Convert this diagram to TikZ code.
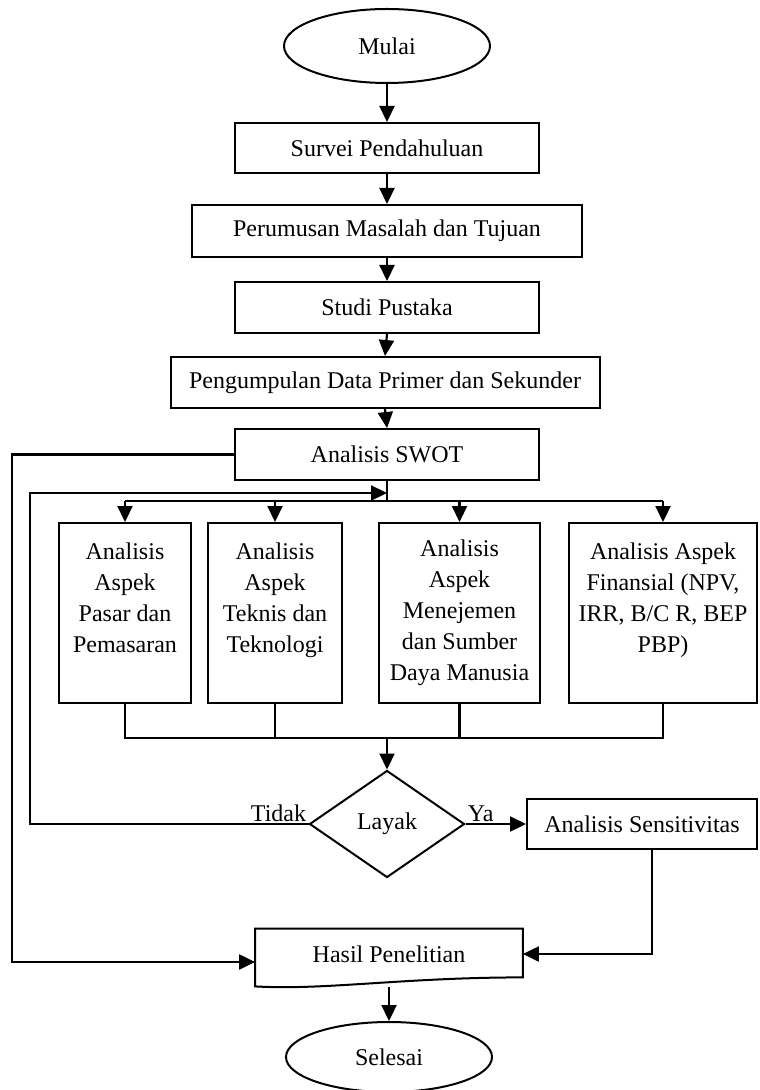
\documentclass[tikz,border=0pt]{standalone}
\usepackage{fontspec}
\setmainfont{Liberation Serif}
\usetikzlibrary{shapes.geometric,arrows.meta}
\begin{document}
\begin{tikzpicture}[
  x=0.5pt, y=-0.5pt,
  every node/.style={font=\fontsize{12}{15.5}\selectfont},
  box/.style={draw, line width=1pt, rectangle, align=center, inner sep=3pt},
  term/.style={draw, line width=1pt, ellipse, minimum width=103pt, minimum height=37pt},
  decision/.style={draw, line width=1pt, diamond, minimum width=77.5pt, minimum height=53.5pt, inner sep=0pt},
  arr/.style={-{Triangle[length=8pt,width=7.5pt]}, line width=1.1pt},
  link/.style={line width=1.1pt},
  lbl/.style={inner sep=1pt},
]
\useasboundingbox (0,0) rectangle (759,1090);

% main column
\node[term] (mulai) at (387,46) {Mulai};
\node[box, minimum width=152pt, minimum height=25pt] (survei) at (387,148) {Survei Pendahuluan};
\node[box, minimum width=195pt, minimum height=26pt] (perumusan) at (387,231) {Perumusan Masalah dan Tujuan};
\node[box, minimum width=152pt, minimum height=25.5pt] (studi) at (387,307.5) {Studi Pustaka};
\node[box, minimum width=214.5pt, minimum height=25.5pt] (pengumpulan) at (385,382.5) {Pengumpulan Data Primer dan Sekunder};
\node[box, minimum width=152pt, minimum height=25.5pt] (swot) at (387,454.5) {Analisis SWOT};

% aspek analysis
\node[box, minimum width=66pt, minimum height=90pt] (pasar) at (125,613) {Analisis\\Aspek\\Pasar dan\\Pemasaran\\\mbox{}};
\node[box, minimum width=67pt, minimum height=90pt] (teknis) at (275,613) {Analisis\\Aspek\\Teknis dan\\Teknologi\\\mbox{}};
\node[box, minimum width=80.5pt, minimum height=90pt] (sdm) at (459.5,613) {Analisis\\Aspek\\Menejemen\\dan Sumber\\Daya Manusia};
\node[box, minimum width=94pt, minimum height=90pt] (finansial) at (663,613) {Analisis Aspek\\Finansial (NPV,\\IRR, B/C R, BEP\\PBP)\\\mbox{}};

\node[decision] (layak) at (387,824) {Layak};
\node[box, minimum width=115pt, minimum height=25pt] (sens) at (642,824) {Analisis Sensitivitas};
\node[lbl, anchor=south east] (tidak) at (layak.west) {Tidak};
\node[lbl, anchor=south west] (ya) at (layak.east) {Ya};

% document shape
\node[minimum width=133.5pt, minimum height=25pt, inner sep=0pt] (hasil) at (389,954) {Hasil Penelitian};
\draw[line width=1pt] (hasil.north west) -- (hasil.north east) -- ([yshift=1pt]hasil.south east)
  .. controls +(-60pt,0pt) and +(35pt,-2pt) .. ([yshift=-3.5pt]hasil.south west) -- cycle;
\node[term, minimum height=35pt] (selesai) at (389,1057) {Selesai};

% connectors
\foreach \a/\b in {mulai/survei, survei/perumusan, perumusan/studi, studi/pengumpulan, pengumpulan/swot}
  \draw[arr] (\a.south) -- (\b.north);

\coordinate (split) at (387,501);
\coordinate (join) at (387,738);
\draw[link] (swot.south) -- (split);
\draw[link] (split -| pasar.north) -- (split -| finansial.north);
\draw[link] (pasar.south) -- (pasar.south |- join) -- (finansial.south |- join) -- (finansial.south);
\foreach \b in {pasar,teknis,sdm,finansial}
  \draw[arr] (split -| \b.north) -- (\b.north);
\foreach \b in {teknis,sdm}
  \draw[link] (\b.south) -- (\b.south |- join);
\draw[arr] (join) -- (layak.north);

\coordinate (loopA) at (12,962);
\coordinate (loopB) at (30,493);
\draw[arr] (swot.west) -| (loopA) -- (loopA -| hasil.west);
\draw[arr] (layak.west) -| (loopB) -- (loopB -| split);

\draw[arr] (layak.east) -- (sens.west);
\draw[arr] ([xshift=5pt]sens.south) |- (hasil.east);
\draw[arr] ([yshift=-4pt]hasil.south) -- (selesai.north);
\end{tikzpicture}
\end{document}
